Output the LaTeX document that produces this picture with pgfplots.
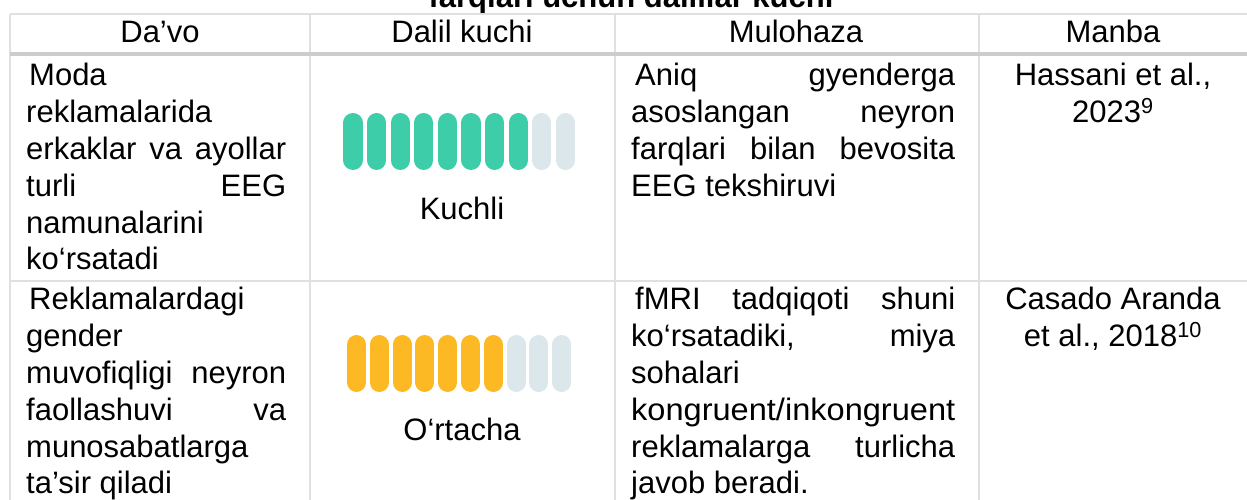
\documentclass[border=0pt]{standalone}
\usepackage{pgfplots}
\pgfplotsset{compat=1.18}
\usepackage{fontspec}
\setmainfont{Liberation Sans}
\definecolor{gr}{HTML}{3DCDA9}
\definecolor{em}{HTML}{DCE7EB}
\definecolor{am}{HTML}{FDB924}
\definecolor{ln}{HTML}{E0E0E0}
\definecolor{hl}{HTML}{CCCCCC}
\newcommand\TF{\fontsize{31}{37}\selectfont}
\newcommand\TL[3]{\node[anchor=base west,inner sep=0pt] at (#1,#2) {\TF #3};}
\newcommand\TJ[4]{\node[anchor=base west,inner sep=0pt] at (#1,#2) {\TF\hbox to #3pt{#4}};}
\newcommand\TC[3]{\node[anchor=base,inner sep=0pt] at (#1,#2) {\TF #3};}
\begin{document}
\begin{tikzpicture}[x=1pt,y=1pt]
\path[use as bounding box] (0,0) rectangle (1247,500);
% title (cut off at top)
\node[anchor=base,inner sep=0pt] at (631,492) {\fontsize{31}{37}\selectfont\bfseries farqlari uchun dalillar kuchi};
% grid
\draw[ln,line width=1.6pt] (10,486) -- (1247,486);
\draw[ln,line width=1.6pt] (10,219) -- (1247,219);
\foreach \xx in {10,310,615,979} \draw[ln,line width=1.6pt] (\xx,486) -- (\xx,0);
\draw[hl,line width=3.5pt] (10,446) -- (1247,446);
% header
\TC{160}{457}{Da’vo}
\TC{462}{457}{Dalil kuchi}
\TC{796}{457}{Mulohaza}
\TC{1113}{457}{Manba}
% row 1, col 1
\TL{29}{414}{Moda}
\TL{26}{377.2}{reklamalarida}
\TJ{26}{340.4}{260}{erkaklar\hfill va\hfill ayollar}
\TJ{26}{303.6}{260}{turli\hfill EEG}
\TL{26}{266.8}{namunalarini}
\TL{26}{230}{ko‘rsatadi}
% row 1, col 3
\TJ{635}{414}{320}{Aniq\hfill gyenderga}
\TJ{631}{377.2}{324}{asoslangan\hfill neyron}
\TJ{631}{340.4}{324}{farqlari\hfill bilan\hfill bevosita}
\TL{631}{303.6}{EEG tekshiruvi}
% row 1, col 4
\TC{1113}{414}{Hassani et al.,}
\TC{1113}{377.2}{2023\textsuperscript{9}}
% row 2, col 1
\TL{29}{190}{Reklamalardagi}
\TL{26}{153.2}{gender}
\TJ{26}{116.4}{260}{muvofiqligi\hfill neyron}
\TJ{26}{79.6}{260}{faollashuvi\hfill va}
\TL{26}{42.8}{munosabatlarga}
\TL{26}{6}{ta’sir qiladi}
% row 2, col 3
\TJ{635}{190}{320}{fMRI\hfill tadqiqoti\hfill shuni}
\TJ{631}{153.2}{324}{ko‘rsatadiki,\hfill miya}
\TL{631}{116.4}{sohalari}
\node[anchor=base west,inner sep=0pt] at (631,79.6) {\TF\resizebox{324pt}{\height}{kongruent/inkongruent}};
\TJ{631}{42.8}{324}{reklamalarga\hfill turlicha}
\TL{631}{6}{javob beradi.}
% row 2, col 4
\TC{1113}{190}{Casado Aranda}
\TC{1113}{153.2}{et al., 2018\textsuperscript{10}}
% strength labels
\TC{462}{280}{Kuchli}
\TC{462}{59}{O‘rtacha}
% strength bars
\begin{axis}[hide axis, clip=false, scale only axis, x=23.6pt, y=1pt,
  xmin=0, xmax=11, ymin=-1, ymax=1, anchor=south west, at={(329.4pt,357.5pt)}]
\addplot[only marks, mark=|, mark size=18.85pt, color=gr,
  mark options={line width=19.3pt, line cap=round}] coordinates {(1,0)(2,0)(3,0)(4,0)(5,0)(6,0)(7,0)(8,0)};
\addplot[only marks, mark=|, mark size=18.85pt, color=em,
  mark options={line width=19.3pt, line cap=round}] coordinates {(9,0)(10,0)};
\end{axis}
\begin{axis}[hide axis, clip=false, scale only axis, x=22.8pt, y=1pt,
  xmin=0, xmax=11, ymin=-1, ymax=1, anchor=south west, at={(333.7pt,135.5pt)}]
\addplot[only marks, mark=|, mark size=19pt, color=am,
  mark options={line width=19pt, line cap=round}] coordinates {(1,0)(2,0)(3,0)(4,0)(5,0)(6,0)(7,0)};
\addplot[only marks, mark=|, mark size=19pt, color=em,
  mark options={line width=19pt, line cap=round}] coordinates {(8,0)(9,0)(10,0)};
\end{axis}
\end{tikzpicture}
\end{document}
